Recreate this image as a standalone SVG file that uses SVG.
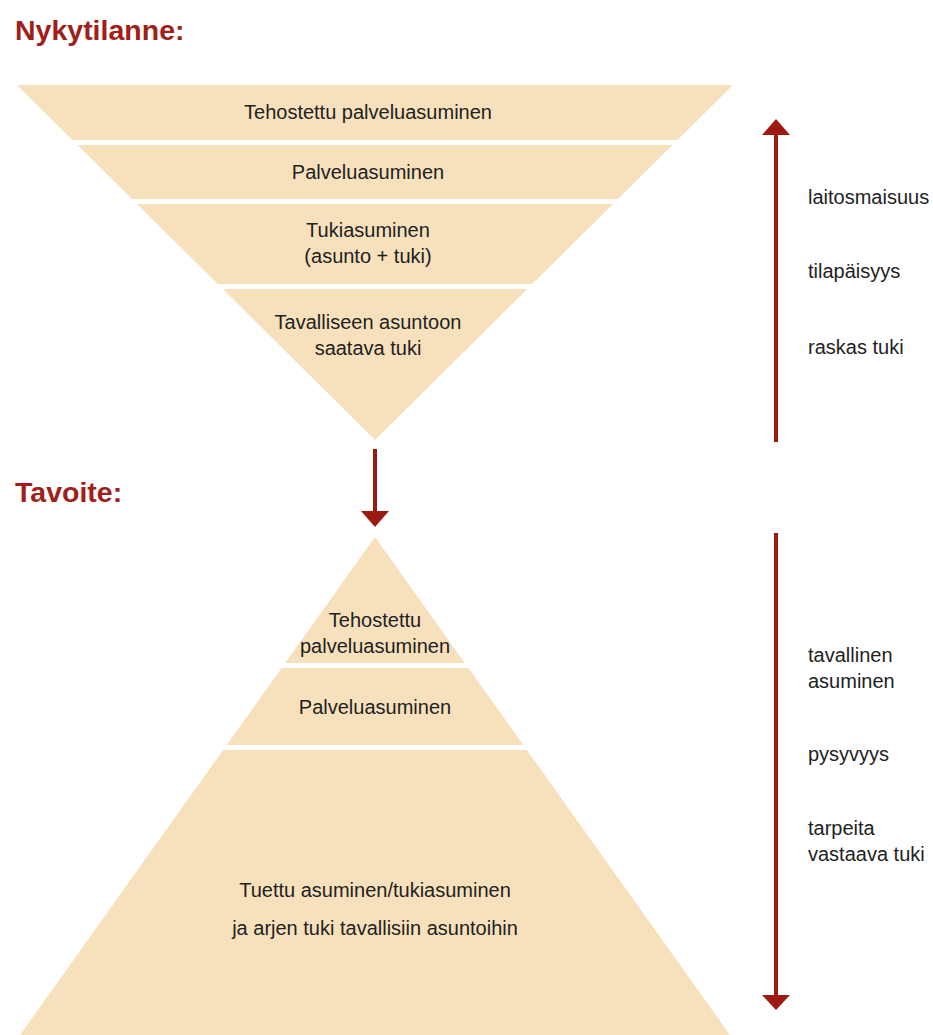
<svg xmlns="http://www.w3.org/2000/svg" width="933" height="1035" viewBox="0 0 933 1035">
<defs>
<style>
.band{fill:#F7E1BC;}
.t{font-family:"Liberation Sans",Arial,sans-serif;font-size:20px;fill:#222222;text-anchor:middle;}
.lab{font-family:"Liberation Sans",Arial,sans-serif;font-size:20px;fill:#222222;}
.title{font-family:"Liberation Sans",Arial,sans-serif;font-size:28.5px;font-weight:bold;fill:#A11F1A;}
.arr{stroke:#9C1A12;stroke-width:4;fill:none;}
.head{fill:#9C1A12;}
</style>
</defs>
<rect width="933" height="1035" fill="#ffffff"/>
<text class="title" x="15" y="40">Nykytilanne:</text>
<text class="title" x="15" y="502">Tavoite:</text>

<g id="top-band1">
<polygon class="band" points="17,85 733,85 677.5,140 72.5,140"/>
<text class="t" x="368" y="119">Tehostettu palveluasuminen</text>
</g>
<g id="top-band2">
<polygon class="band" points="77.5,145 672.5,145 618,199 132,199"/>
<text class="t" x="368" y="179">Palveluasuminen</text>
</g>
<g id="top-band3">
<polygon class="band" points="137,204 613,204 532.3,284 217.7,284"/>
<text class="t" x="368" y="237">Tukiasuminen</text>
<text class="t" x="368" y="263">(asunto + tuki)</text>
</g>
<g id="top-band4">
<polygon class="band" points="222.7,289 527.3,289 375,440"/>
<text class="t" x="368" y="329">Tavalliseen asuntoon</text>
<text class="t" x="368" y="355">saatava tuki</text>
</g>

<g id="bottom-band1">
<polygon class="band" points="375,537 464.8,663 285.2,663"/>
<text class="t" x="375" y="627">Tehostettu</text>
<text class="t" x="375" y="653">palveluasuminen</text>
</g>
<g id="bottom-band2">
<polygon class="band" points="281.6,668 468.4,668 523.3,745 226.7,745"/>
<text class="t" x="375" y="714">Palveluasuminen</text>
</g>
<g id="bottom-band3">
<polygon class="band" points="223.1,750 526.9,750 730,1035 20,1035"/>
<text class="t" x="375" y="897">Tuettu asuminen/tukiasuminen</text>
<text class="t" x="375" y="935">ja arjen tuki tavallisiin asuntoihin</text>
</g>

<g id="connectors">
<line class="arr" x1="776" y1="442" x2="776" y2="133"/>
<polygon class="head" points="776,119 790,135 762,135"/>
<line class="arr" x1="375" y1="449" x2="375" y2="513"/>
<polygon class="head" points="375,527 361,511 389,511"/>
<line class="arr" x1="776" y1="533" x2="776" y2="997"/>
<polygon class="head" points="776,1010 762,995 790,995"/>
</g>

<g id="labels-top">
<text class="lab" x="808" y="204">laitosmaisuus</text>
<text class="lab" x="808" y="278">tilapäisyys</text>
<text class="lab" x="808" y="354">raskas tuki</text>
</g>
<g id="labels-bottom">
<text class="lab" x="808" y="662">tavallinen</text>
<text class="lab" x="808" y="688">asuminen</text>
<text class="lab" x="808" y="761">pysyvyys</text>
<text class="lab" x="808" y="835">tarpeita</text>
<text class="lab" x="808" y="861">vastaava tuki</text>
</g>
</svg>
